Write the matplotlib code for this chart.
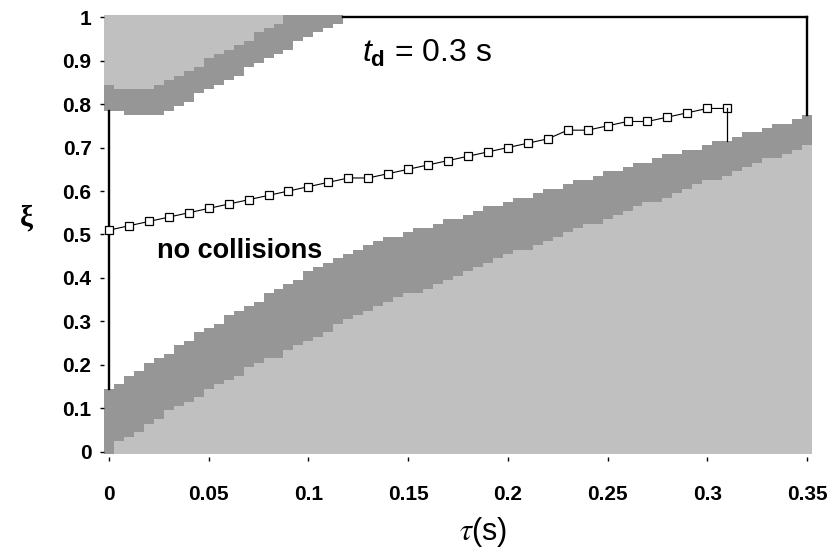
import numpy as np
import matplotlib
matplotlib.use('Agg')
import matplotlib.pyplot as plt

# grille de calcul : colonnes en tau (pas 0.005 s), cellules en xi (pas 0.01)
tau_step = 0.005
xi_step = 0.01
tau_grid = np.round(np.arange(0, 0.35 + tau_step / 2, tau_step), 3)   # 71 colonnes

# zone basse : xi de la derniere cellule gris clair / gris fonce dans chaque colonne
low_light_top = [-0.01, 0.02, 0.03, 0.04, 0.06, 0.07, 0.09, 0.10, 0.11, 0.12,
                 0.14, 0.15, 0.16, 0.17, 0.19, 0.20, 0.21, 0.21, 0.23, 0.24,
                 0.25, 0.26, 0.27, 0.29, 0.30, 0.31, 0.32, 0.33, 0.34, 0.35,
                 0.36, 0.36, 0.37, 0.38, 0.39, 0.40, 0.41, 0.42, 0.43, 0.44,
                 0.45, 0.46, 0.46, 0.47, 0.48, 0.49, 0.50, 0.51, 0.52, 0.52,
                 0.53, 0.54, 0.55, 0.56, 0.57, 0.57, 0.58, 0.59, 0.60, 0.61,
                 0.62, 0.62, 0.63, 0.64, 0.65, 0.66, 0.67, 0.67, 0.68, 0.69,
                 0.70]
low_dark_top = [0.14, 0.15, 0.17, 0.18, 0.20, 0.21, 0.22, 0.24, 0.25, 0.27,
                0.28, 0.29, 0.31, 0.32, 0.33, 0.34, 0.36, 0.37, 0.38, 0.39,
                0.41, 0.42, 0.43, 0.44, 0.45, 0.46, 0.47, 0.48, 0.49, 0.49,
                0.50, 0.51, 0.51, 0.52, 0.53, 0.53, 0.54, 0.55, 0.56, 0.56,
                0.57, 0.58, 0.58, 0.59, 0.60, 0.60, 0.61, 0.62, 0.62, 0.63,
                0.64, 0.64, 0.65, 0.66, 0.66, 0.67, 0.68, 0.68, 0.69, 0.69,
                0.70, 0.71, 0.71, 0.72, 0.73, 0.73, 0.74, 0.75, 0.75, 0.76,
                0.77]

# zone haute : xi de la premiere cellule gris fonce / gris clair (colonnes depuis tau = 0)
up_dark_bottom = [0.79, 0.79, 0.78, 0.78, 0.78, 0.78, 0.79, 0.80, 0.81, 0.83,
                  0.84, 0.85, 0.86, 0.87, 0.89, 0.90, 0.91, 0.92, 0.93, 0.95,
                  0.96, 0.97, 0.98, 0.99]
up_light_bottom = [0.85, 0.84, 0.84, 0.84, 0.84, 0.85, 0.86, 0.87, 0.88, 0.89,
                   0.91, 0.92, 0.93, 0.94, 0.95, 0.97, 0.98, 0.99]

# trajectoire (carres)
traj_tau = np.round(np.arange(0, 0.31 + 0.005, 0.01), 2)
traj_xi = [0.51, 0.52, 0.53, 0.54, 0.55, 0.56, 0.57, 0.58, 0.59, 0.60,
           0.61, 0.62, 0.63, 0.63, 0.64, 0.65, 0.66, 0.67, 0.68, 0.69,
           0.70, 0.71, 0.72, 0.74, 0.74, 0.75, 0.76, 0.76, 0.77, 0.78,
           0.79, 0.79]

x_ticks = [0, 0.05, 0.1, 0.15, 0.2, 0.25, 0.3, 0.35]
x_labels = ['0', '0.05', '0.1', '0.15', '0.2', '0.25', '0.3', '0.35']
y_ticks = [0, 0.1, 0.2, 0.3, 0.4, 0.5, 0.6, 0.7, 0.8, 0.9, 1.0]
y_labels = ['0', '0.1', '0.2', '0.3', '0.4', '0.5', '0.6', '0.7', '0.8', '0.9', '1']

LIGHT = '#c0c0c0'
DARK = '#969696'

plt.rcParams['font.family'] = 'Liberation Sans'
plt.rcParams['mathtext.fontset'] = 'custom'
plt.rcParams['mathtext.rm'] = 'Liberation Sans'
plt.rcParams['mathtext.it'] = 'Liberation Sans:italic'
plt.rcParams['mathtext.bf'] = 'Liberation Sans:bold'


def bords(n):
    t = tau_grid[:n]
    return np.append(t - tau_step / 2, t[-1] + tau_step / 2)


fig = plt.figure(figsize=(8.32, 5.54), dpi=100)
ax = fig.add_axes([104 / 832, 1 - 457 / 554, 708 / 832, 442 / 554])

h = xi_step / 2
bas = -h
haut = 1 + h
n = len(tau_grid)

# zone basse : gris fonce puis gris clair par-dessus
ax.stairs(np.array(low_dark_top) + h, bords(n), baseline=bas, fill=True,
          color=DARK, lw=0)
ax.stairs(np.array(low_light_top) + h, bords(n), baseline=bas, fill=True,
          color=LIGHT, lw=0)

# zone haute
nd = len(up_dark_bottom)
nl = len(up_light_bottom)
ax.stairs(np.full(nd, haut), bords(nd), baseline=np.array(up_dark_bottom) - h,
          fill=True, color=DARK, lw=0)
ax.stairs(np.full(nl, haut), bords(nl), baseline=np.array(up_light_bottom) - h,
          fill=True, color=LIGHT, lw=0)

# contour de la zone sans collision
t0 = tau_grid[0]
t_fin = tau_grid[-1]
t_haut = tau_grid[nd - 1] + tau_step / 2
ax.plot([t0, t0], [low_dark_top[0] + h, up_dark_bottom[0] - h], color='black', lw=1.7)
ax.plot([t_haut, t_fin], [1, 1], color='black', lw=1.7)
ax.plot([t_fin, t_fin], [1, low_dark_top[-1] + h], color='black', lw=1.7)

# trajectoire
ax.plot(traj_tau, traj_xi, color='black', lw=0.8, marker='s', markersize=5.2,
        markerfacecolor='white', markeredgecolor='black', markeredgewidth=0.9)
i_fin = int(round(traj_tau[-1] / tau_step))
ax.plot([traj_tau[-1], traj_tau[-1]], [traj_xi[-1], low_dark_top[i_fin] + h],
        color='black', lw=0.9)

ax.text(0.127, 0.898, r'$t_{\mathbf{d}}$ = 0.3 s', fontsize=23)
ax.text(0.024, 0.447, 'no collisions', fontsize=19.5, fontweight='bold')

ax.set_xlim(-tau_step / 2, 0.35 + tau_step / 2)
ax.set_ylim(-0.012, 1.005)
ax.set_xticks(x_ticks)
ax.set_xticklabels(x_labels, fontsize=15, fontweight='bold')
ax.set_yticks(y_ticks)
ax.set_yticklabels(y_labels, fontsize=15, fontweight='bold')
ax.tick_params(axis='x', direction='out', length=3, width=1, pad=17)
ax.tick_params(axis='y', direction='out', length=3, width=1, pad=6)
for s in ax.spines.values():
    s.set_visible(False)

fig.text(483 / 832, 1 - 532 / 554, r'$\tau$(s)', fontsize=22, ha='center',
         va='center', math_fontfamily='stix')
fig.text(26 / 832, 1 - 218 / 554, 'ξ', fontsize=21, fontweight='bold',
         family='Liberation Serif', ha='center', va='center')

fig.savefig('out.png', dpi=100)
